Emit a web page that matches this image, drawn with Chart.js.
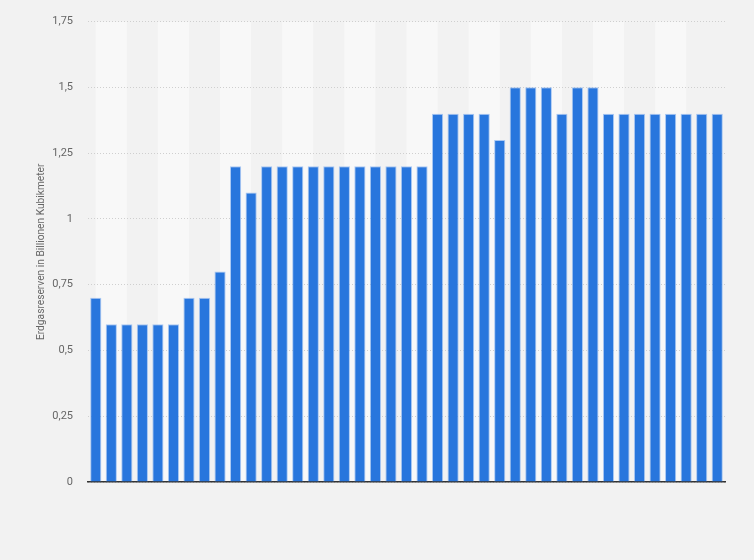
<!DOCTYPE html>
<html lang="de">
<head>
    <meta charset="UTF-8">
    <title>Erdgasreserven</title>
    <script src="https://cdn.jsdelivr.net/npm/chart.js"></script>
    <style>
        html, body { margin: 0; padding: 0; background: #f2f2f2; }
        #wrap { width: 754px; height: 560px; }
    </style>
</head>
<body>
    <div id="wrap"><canvas id="reserveChart" width="754" height="560"></canvas></div>

    <script>
        // Jahre (Achse ohne Beschriftung im Original)
        const years = ["1980", "1981", "1982", "1983", "1984", "1985", "1986", "1987", "1988", "1989",
                       "1990", "1991", "1992", "1993", "1994", "1995", "1996", "1997", "1998", "1999",
                       "2000", "2001", "2002", "2003", "2004", "2005", "2006", "2007", "2008", "2009",
                       "2010", "2011", "2012", "2013", "2014", "2015", "2016", "2017", "2018", "2019", "2020"];

        // Erdgasreserven in Billionen Kubikmeter
        const reserves = [0.7, 0.6, 0.6, 0.6, 0.6, 0.6, 0.7, 0.7, 0.8, 1.2,
                          1.1, 1.2, 1.2, 1.2, 1.2, 1.2, 1.2, 1.2, 1.2, 1.2,
                          1.2, 1.2, 1.4, 1.4, 1.4, 1.4, 1.3, 1.5, 1.5, 1.5,
                          1.4, 1.5, 1.5, 1.4, 1.4, 1.4, 1.4, 1.4, 1.4, 1.4, 1.4];

        const yTicks = [0, 0.25, 0.5, 0.75, 1, 1.25, 1.5, 1.75];

        // helle Streifen im Hintergrund, je zwei Balken breit
        const bandPlugin = {
            id: "bands",
            beforeDraw(chart) {
                const { ctx, chartArea, scales } = chart;
                ctx.save();
                ctx.fillStyle = "#f2f2f2";
                ctx.fillRect(0, 0, chart.width, chart.height);
                ctx.fillStyle = "#f8f8f8";
                for (let i = 0; i + 2 < years.length; i += 4) {
                    const x0 = scales.x.getPixelForValue(i);
                    const x1 = scales.x.getPixelForValue(i + 2);
                    ctx.fillRect(x0, chartArea.top, x1 - x0, chartArea.bottom - chartArea.top);
                }
                ctx.restore();
            }
        };

        new Chart(document.getElementById("reserveChart"), {
            type: "bar",
            data: {
                labels: years,
                datasets: [{
                    label: "Erdgasreserven",
                    data: reserves,
                    backgroundColor: "#2876dd",
                    borderColor: "rgba(120,170,240,0.6)",
                    borderWidth: 1,
                    barPercentage: 0.72,
                    categoryPercentage: 1
                }]
            },
            options: {
                responsive: false,
                animation: false,
                layout: { padding: { top: 14, right: 29, bottom: 78, left: 35 } },
                plugins: {
                    legend: { display: false },
                    tooltip: { enabled: false }
                },
                scales: {
                    x: {
                        ticks: { display: false },
                        grid: { display: false, drawTicks: false },
                        border: { display: true, color: "#333333", width: 1.5 }
                    },
                    y: {
                        min: 0,
                        max: 1.75,
                        afterBuildTicks: axis => { axis.ticks = yTicks.map(v => ({ value: v })); },
                        afterFit: axis => { axis.width = 53; },
                        ticks: {
                            padding: 15,
                            color: "#666666",
                            font: { family: "Roboto, Arial, sans-serif", size: 11 },
                            callback: v => String(v).replace(".", ",")
                        },
                        grid: {
                            color: "#cfcfcf",
                            lineWidth: 1,
                            drawTicks: false
                        },
                        border: { display: false, dash: [1, 2] },
                        title: {
                            display: true,
                            text: "Erdgasreserven in Billionen Kubikmeter",
                            color: "#666666",
                            font: { family: "Roboto, Arial, sans-serif", size: 10.2 },
                            padding: 0
                        }
                    }
                }
            },
            plugins: [bandPlugin]
        });
    </script>
</body>
</html>
